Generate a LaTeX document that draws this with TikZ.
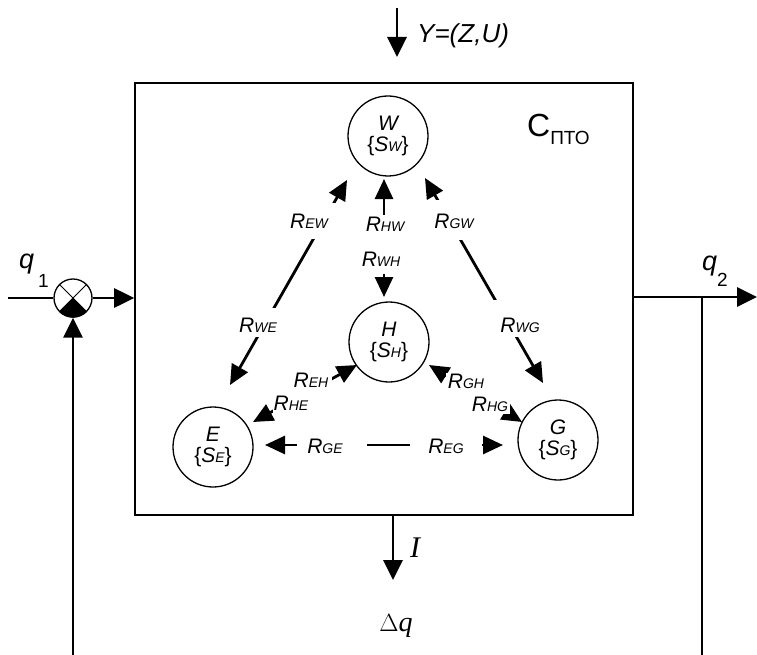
\documentclass[tikz,border=0pt]{standalone}
\usepackage{fontspec}
\setmainfont{Liberation Sans}
\newfontfamily\serifrm{Liberation Serif}
\usetikzlibrary{arrows.meta,calc}
\newcommand{\fs}[1]{\fontsize{#1}{#1}\selectfont}
\newcommand{\Rlab}[1]{\itshape{\fs{21}R}{\fs{14}#1}}
\newcommand{\Stext}[2]{{\fs{21}\itshape #1}\\[4pt]{\fs{21}\{{\itshape S{\fs{14}#2}}\}}}
\begin{document}
\begin{tikzpicture}[x=1pt,y=-1pt,
  tip/.style={-{Triangle[length=20pt,width=19pt]}},
  both/.style={{Triangle[length=20pt,width=18pt]}-{Triangle[length=20pt,width=18pt]}},
  conn/.style={line width=2.8pt},
  st/.style={circle,draw,line width=1.3pt,minimum size=80pt,inner sep=0pt,align=center},
  lbl/.style={fill=white,inner sep=0pt,anchor=base}
]
\useasboundingbox (0,0) rectangle (757,655);
% system box
\node[draw,line width=1.6pt,minimum width=498pt,minimum height=432pt,inner sep=0pt] (sys) at (384,299) {};
% states
\node[st] (W) at (388,136) {\Stext{W}{W}};
\node[st] (H) at (389,342) {\Stext{H}{H}};
\node[st] (E) at (213,447) {\Stext{E}{E}};
\node[st] (G) at (558,440) {\Stext{G}{G}};
% connectors between states
\draw[conn,both] ($(E)+(17,-62)$) -- ($(W)+(-41,44)$);
\draw[conn,both] ($(H)+(-5,-45)$) -- ($(W)+(-4,43)$);
\draw[conn,both] ($(G)+(-15,-57)$) -- ($(W)+(37,42)$);
\draw[conn,both] ($(E)+(40,-25)$) -- ($(H)+(-32,23)$);
\draw[conn,both] ($(G)+(-36,-18)$) -- ($(H)+(40,23)$);
\draw[conn,both] ($(E)+(52,-2)$) -- ($(G)+(-55,5)$);
% labels
\node[lbl,text height=25pt,text depth=11pt,minimum width=58pt] (lEW) at (309,228) {\Rlab{EW}};
\node[lbl,text height=24pt,text depth=5pt,minimum width=44pt] (lWE) at (258,332) {\Rlab{WE}};
\node[lbl,text height=16pt,text depth=10pt,minimum width=44pt] (lHW) at (385,231) {\Rlab{HW}};
\node[lbl,text height=25pt,text depth=8pt,minimum width=44pt] (lWH) at (381,266) {\Rlab{WH}};
\node[lbl,text height=28pt,text depth=12pt,minimum width=44pt] (lGW) at (454,228) {\Rlab{GW}};
\node[lbl,text height=32pt,text depth=5pt,minimum width=54pt] (lWG) at (520,332) {\Rlab{WG}};
\node[lbl,text height=16pt,text depth=10pt,minimum width=42pt] (lEH) at (311,387) {\Rlab{EH}};
\node[lbl,text height=16pt,text depth=4pt,minimum width=36pt] (lHE) at (291,410) {\Rlab{HE}};
\node[lbl,text height=15pt,text depth=7pt,minimum width=40pt] (lGH) at (466,388) {\Rlab{GH}};
\node[lbl,text height=18pt,text depth=3pt,minimum width=40pt] (lHG) at (490,411) {\Rlab{HG}};
\node[lbl,text height=15pt,text depth=4pt,minimum width=70pt] (lGE) at (332,453) {\Rlab{GE}\hspace*{14pt}};
\node[lbl,text height=15pt,text depth=4pt,minimum width=72pt] (lEG) at (446,453) {\Rlab{EG}};
% title
\node[anchor=base west,inner sep=0pt] (title) at (527,137) {\fs{32}С{\fs{19}\raisebox{-8pt}{ПТО}}};
% input Y
\coordinate (ytop) at (397,8);
\coordinate (ytip) at (397,57);
\draw[conn,tip] (ytop) -- (ytip);
\node[anchor=base west,inner sep=0pt] (ylab) at (417,43) {\fs{26}\itshape Y=(Z,U)};
% summing junction
\node[circle,draw,line width=1.3pt,minimum size=38pt,inner sep=0pt] (sum) at (73,298) {};
\draw[line width=1pt] (sum.north west) -- (sum.south east) (sum.north east) -- (sum.south west);
\fill (sum.center) -- (sum.225) -- (sum.235) -- (sum.245) -- (sum.255) -- (sum.265) -- (sum.275) -- (sum.285) -- (sum.295) -- (sum.305) -- (sum.315) -- cycle;
\coordinate (qin) at (8,298);
\draw[conn] (qin) -- (sum.west);
\draw[conn,tip] (sum.east) -- (sum.east -| sys.west);
\coordinate (fb) at (73,655);
\draw[conn,tip] (fb) -- (sum.south);
\node[anchor=base west,inner sep=0pt] (q1) at (19,268) {\fs{27}\itshape q\hspace{4pt}\raisebox{-19pt}{\fs{19}\upshape 1}};
% output
\coordinate (qout) at (757,297);
\draw[conn,tip] (qout -| sys.east) -- (qout);
\coordinate (tap) at (702,297);
\coordinate (tapb) at (702,655);
\draw[conn] (tap) -- (tapb);
\node[anchor=base west,inner sep=0pt] (q2) at (702,270) {\fs{27}\itshape q\raisebox{-16pt}{\fs{19}\upshape 2}};
% loss output
\coordinate (bot) at (393,580);
\draw[conn,tip] (sys.south -| bot) -- (bot);
\node[anchor=base west,inner sep=0pt] (ilab) at (410,557) {\fs{30}\serifrm\itshape I};
\node[anchor=base,inner sep=0pt] (dq) at (396,631) {\fs{28}\serifrm $\Delta$\itshape q};
\end{tikzpicture}
\end{document}
